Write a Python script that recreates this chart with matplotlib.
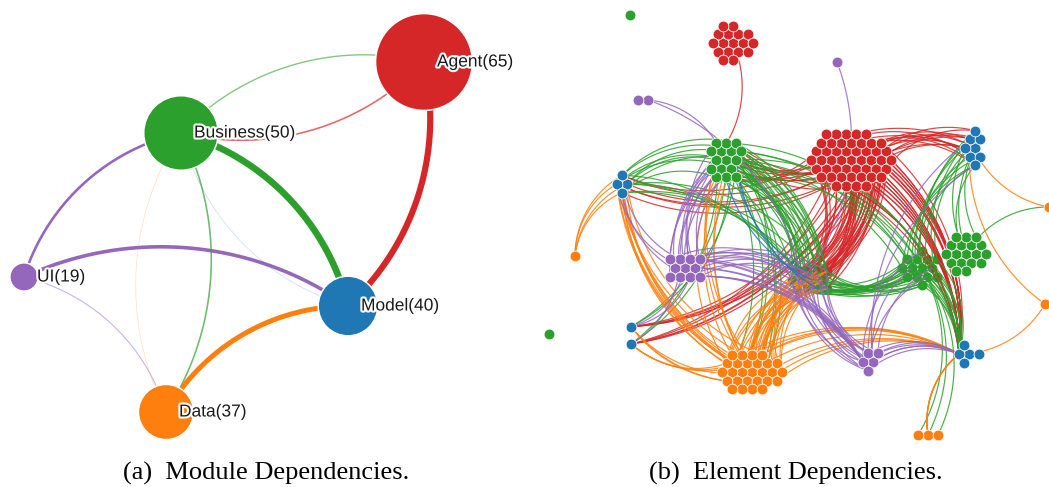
import numpy as np
import matplotlib
matplotlib.use("Agg")
import matplotlib.pyplot as plt
from matplotlib.patches import Circle
from matplotlib.collections import LineCollection
import matplotlib.patheffects as pe

W, H, DPI = 1049, 487, 100
PX = 72.0 / DPI  # points per pixel

# ------------------------------------------------------------------ data (a)
modules = ["Agent", "Business", "Model", "Data", "UI"]
module_sizes = [65, 50, 40, 37, 19]
module_colors = ["#d62728", "#2ca02c", "#1f77b4", "#ff7f0e", "#9467bd"]
module_x = [424, 181, 348, 166, 24]
module_y = [62, 133, 306, 412, 277]

link_src = ["Business", "Agent", "Business", "Agent", "UI", "UI", "UI",
            "Data", "Business", "Model", "Data"]
link_tgt = ["Agent", "Business", "Model", "Model", "Business", "Model",
            "Data", "Business", "Data", "Business", "Model"]
link_count = [4, 5, 30, 28, 10, 15, 3, 1, 5, 1, 22]

# ------------------------------------------------------------------ data (b)
cl_name = ["g_s1", "g_s2", "r_top", "p_pair", "p_top", "g_ul", "r_big", "b_ur",
           "b_left", "o_left", "p_left", "g_mid", "g_right", "b_center", "b_bl",
           "o_bottom", "p_bottom", "b_br", "o_r1", "o_r2", "o_b3"]
cl_module = ["Business", "Business", "Agent", "UI", "UI", "Business", "Agent",
             "Model", "Model", "Data", "UI", "Business", "Business", "Model",
             "Model", "Data", "UI", "Model", "Data", "Data", "Data"]
cl_x = [630, 549, 733, 648, 837, 726, 851, 975, 627, 575, 685, 922, 966, 812,
        631, 752, 873, 969, 1049, 1045, 928]
cl_y = [15, 334, 43, 100, 62, 160, 160, 148, 184, 256, 268, 268, 254, 280,
        344, 372, 362, 354, 207, 304, 435]
cl_count = [1, 1, 17, 2, 1, 16, 48, 8, 4, 1, 11, 14, 18, 12, 2, 27, 5, 5, 1, 1, 3]
cl_ax = [1, 1, 1.2, 1.5, 1, 0.8, 1.35, 0.6, 1, 1, 1.3, 1.1, 1.2, 1.2, 0.5, 1.6,
         1, 1.2, 1, 1, 2]
cl_ay = [1, 1, 1.0, 0.5, 1, 1.2, 1.0, 1.4, 1, 1, 1.0, 1.0, 1.0, 1, 2.0, 1.0,
         1, 1.0, 1, 1, 0.5]
cl_under_links = ["g_mid", "b_center"]

el_src = ["r_top", "r_big", "r_big", "r_big", "r_big", "r_big", "r_big",
          "b_left", "g_ul", "g_ul", "g_mid", "g_right", "g_mid", "g_mid",
          "g_mid", "g_right", "g_ul", "g_ul", "b_left",
          "o_left", "o_bottom", "o_bottom", "o_bottom", "o_bottom", "o_r1",
          "o_r2", "o_r2", "o_b3", "o_bottom",
          "p_left", "p_left", "p_left", "p_bottom", "p_bottom", "p_bottom",
          "p_left", "p_left", "p_pair", "p_pair", "p_top", "p_bottom",
          "b_center"]
el_tgt = ["g_ul", "b_ur", "g_ul", "b_left", "b_bl", "b_br", "b_center",
          "g_ul", "b_center", "g_mid", "b_ur", "b_ur", "b_br", "b_center",
          "o_b3", "o_r1", "b_bl", "o_bottom", "b_center",
          "b_left", "b_left", "b_bl", "b_center", "b_br", "b_ur",
          "b_ur", "b_br", "b_br", "g_ul",
          "g_ul", "b_center", "p_bottom", "b_br", "g_mid", "b_center",
          "b_bl", "b_left", "g_ul", "b_center", "b_center", "b_ur",
          "g_ul"]
el_count = [1, 16, 12, 6, 10, 28, 42,
            8, 22, 8, 10, 4, 12, 24,
            3, 1, 4, 6, 6,
            4, 10, 6, 30, 8, 1,
            1, 1, 4, 6,
            12, 10, 8, 6, 4, 12,
            3, 3, 1, 1, 1, 2,
            3]
el_module = ["Agent"] * 7 + ["Business"] * 12 + ["Data"] * 10 + ["UI"] * 12 + ["Model"]

captions = ["(a)  Module Dependencies.", "(b)  Element Dependencies."]

# ------------------------------------------------------------------ helpers
color_of = dict(zip(modules, module_colors))


def arc(p, q, n=60):
    """SVG-style arc (radius = chord length, sweep flag 1) in y-down coords."""
    p = np.asarray(p, float)
    q = np.asarray(q, float)
    v = q - p
    c, s = -0.5, -np.sqrt(3) / 2
    u = np.array([v[0] * c - v[1] * s, v[0] * s + v[1] * c])
    ctr = p - u
    r = np.hypot(*v)
    a0 = np.arctan2(p[1] - ctr[1], p[0] - ctr[0])
    t = np.linspace(a0, a0 + np.pi / 3, n)
    return np.column_stack([ctr[0] + r * np.cos(t), ctr[1] + r * np.sin(t)])


def hex_nodes(cx, cy, n, ax, ay, s=10.0):
    pts = []
    for j in range(-12, 13):
        for i in range(-12, 13):
            pts.append((s * (i + j / 2.0), s * j * np.sqrt(3) / 2.0))
    pts = np.array(pts)
    d = (pts[:, 0] / ax) ** 2 + (pts[:, 1] / ay) ** 2
    order = np.lexsort((pts[:, 1], pts[:, 0], np.round(d, 6)))
    sel = pts[order[:n]]
    return np.column_stack([cx + sel[:, 0], cy + sel[:, 1]])


fig = plt.figure(figsize=(W / DPI, H / DPI), dpi=DPI)
fig.patch.set_facecolor("white")

# ------------------------------------------------------------------ panel (a)
ax1 = fig.add_axes([0, 0, 530 / W, 1])
ax1.set_xlim(0, 530)
ax1.set_ylim(H, 0)
ax1.axis("off")

pos = {m: (x, y) for m, x, y in zip(modules, module_x, module_y)}
for s_, t_, n_ in zip(link_src, link_tgt, link_count):
    pts = arc(pos[s_], pos[t_])
    wpx = 0.2 * n_ + 0.6
    alpha = min(1.0, 0.1 + 0.12 * n_)
    ax1.plot(pts[:, 0], pts[:, 1], color=color_of[s_], lw=wpx * PX,
             alpha=alpha, solid_capstyle="butt", zorder=1)

for m, sz, col, x, y in zip(modules, module_sizes, module_colors, module_x, module_y):
    ax1.add_patch(Circle((x, y), 0.745 * sz, facecolor=col, edgecolor="white",
                         lw=1.5 * PX, zorder=2))
    ax1.text(x + 13, y, f"{m}({sz})", fontsize=12.5, family="Liberation Sans",
             color="#1a1a1a", va="center", ha="left", zorder=3,
             path_effects=[pe.withStroke(linewidth=3.0, foreground="white")])

# ------------------------------------------------------------------ panel (b)
ax2 = fig.add_axes([530 / W, 0, 519 / W, 1])
ax2.set_xlim(530, W)
ax2.set_ylim(H, 0)
ax2.axis("off")

nodes = {}
node_cols = {}
for nm, md, x, y, n, a_, b_ in zip(cl_name, cl_module, cl_x, cl_y, cl_count, cl_ax, cl_ay):
    nodes[nm] = hex_nodes(x, y, n, a_, b_)
    node_cols[nm] = color_of[md]

segs, cols = [], []
for s_, t_, n_, md in zip(el_src, el_tgt, el_count, el_module):
    ns, nt = len(nodes[s_]), len(nodes[t_])
    for k in range(n_):
        p = nodes[s_][(k * 3) % ns]
        q = nodes[t_][(k * 5 + 1) % nt] if nt > 1 else nodes[t_][0]
        segs.append(arc(p, q, 40))
        cols.append(color_of[md])
lc = LineCollection(segs, colors=cols, linewidths=1.2 * PX, alpha=0.85, zorder=1)
ax2.add_collection(lc)

for nm in cl_name:
    pts = nodes[nm]
    z = 0.5 if nm in cl_under_links else 2
    ax2.scatter(pts[:, 0], pts[:, 1], s=(10.8 * PX) ** 2, color=node_cols[nm],
                edgecolors="white", linewidths=0.8 * PX, zorder=z)

# ------------------------------------------------------------------ captions
for cx, txt in zip([266, 796], captions):
    fig.text(cx / W, 1 - 480 / H, txt, ha="center", va="baseline", fontsize=19,
             family=["Liberation Serif", "DejaVu Serif"], color="black")

fig.savefig("out.png", dpi=DPI, facecolor="white")
